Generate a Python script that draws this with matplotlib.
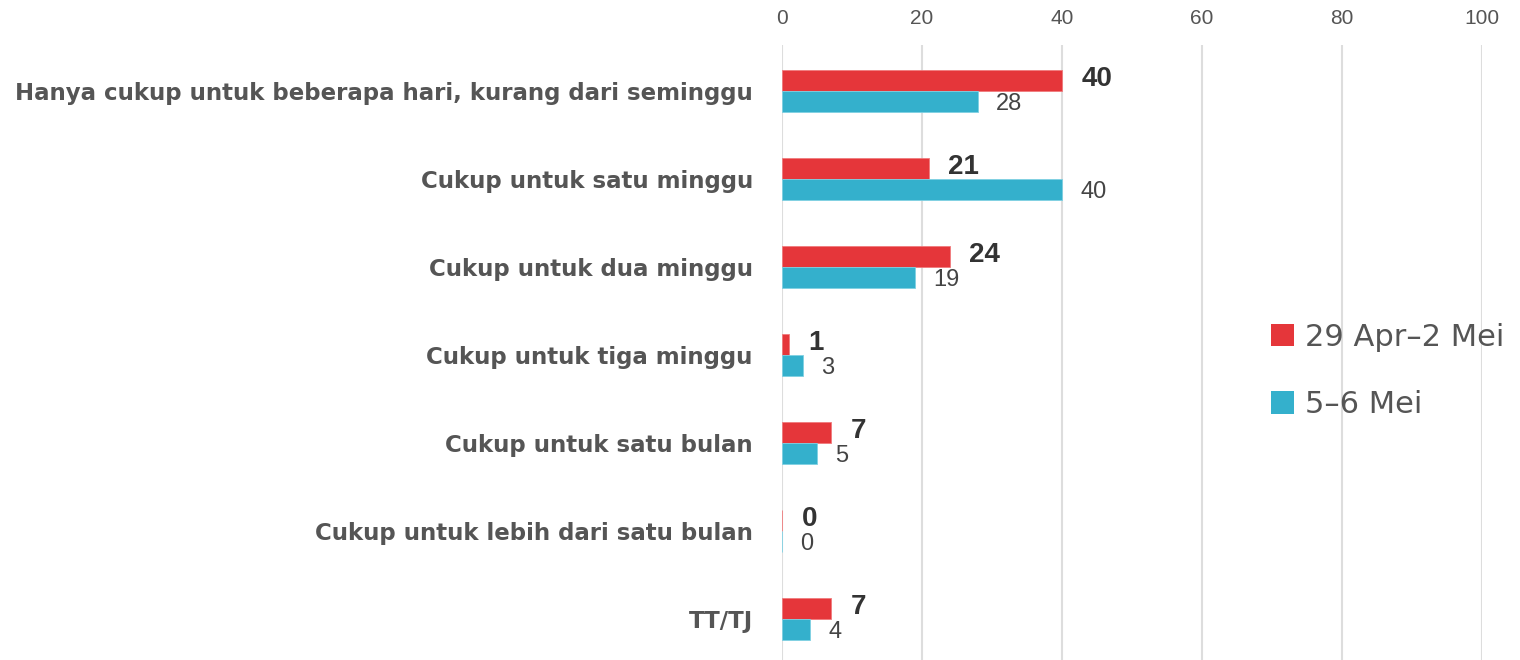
import numpy as np
import matplotlib
matplotlib.use('Agg')
import matplotlib.pyplot as plt
from matplotlib.patches import Patch

# Data
categories = ['Hanya cukup untuk beberapa hari, kurang dari seminggu',
              'Cukup untuk satu minggu',
              'Cukup untuk dua minggu',
              'Cukup untuk tiga minggu',
              'Cukup untuk satu bulan',
              'Cukup untuk lebih dari satu bulan',
              'TT/TJ']
series_names = ['29 Apr\u20132 Mei', '5\u20136 Mei']
period1 = [40, 21, 24, 1, 7, 0, 7]
period2 = [28, 40, 19, 3, 5, 0, 4]
x_ticks = [0, 20, 40, 60, 80, 100]

red = '#E5363A'
blue = '#34B0CC'
text_col = '#555555'
num_font = ['Liberation Sans', 'DejaVu Sans']

fig = plt.figure(figsize=(15.2, 6.6), dpi=100)
ax = fig.add_axes([782/1520, 0, 700/1520, 1 - 45/660])

y = np.arange(len(categories))
h = 0.24
ax.barh(y - h/2, period1, height=h, color=red, edgecolor='#f07a7c', linewidth=0.6, zorder=3)
ax.barh(y + h/2, period2, height=h, color=blue, edgecolor='#7fd0e2', linewidth=0.6, zorder=3)

# value labels
for i in range(len(categories)):
    ax.annotate(str(period1[i]), (period1[i], y[i] - h/2), xytext=(14, 1),
                textcoords='offset points', va='center', ha='left',
                fontsize=20, fontweight='bold', color='#333333', family=num_font)
    ax.annotate(str(period2[i]), (period2[i], y[i] + h/2), xytext=(13, -2),
                textcoords='offset points', va='center', ha='left',
                fontsize=17, color='#444444', family=num_font)

ax.set_xlim(0, 100)
ax.set_ylim(6.466, -0.523)
ax.set_xticks(x_ticks)
ax.set_xticklabels([str(t) for t in x_ticks], family=num_font)
ax.set_yticks(y)
ax.set_yticklabels(categories, fontweight='bold')
ax.xaxis.tick_top()
ax.tick_params(axis='x', length=0, labelsize=15, labelcolor=text_col, pad=12)
ax.tick_params(axis='y', length=0, labelsize=16.5, labelcolor=text_col, pad=21)
for s in ax.spines.values():
    s.set_visible(False)
ax.grid(axis='x', color='#dddddd', linewidth=1.5, zorder=0)
ax.set_axisbelow(True)

# legend
handles = [Patch(facecolor=red), Patch(facecolor=blue)]
fig.legend(handles, series_names, loc='center left', bbox_to_anchor=(1271/1520, 1 - 371/660),
           frameon=False, fontsize=22, labelcolor=text_col, handlelength=0.75, handleheight=0.75,
           handletextpad=0.35, labelspacing=1.25, borderpad=0, borderaxespad=0)

plt.savefig('out.png', dpi=100, facecolor='white')
